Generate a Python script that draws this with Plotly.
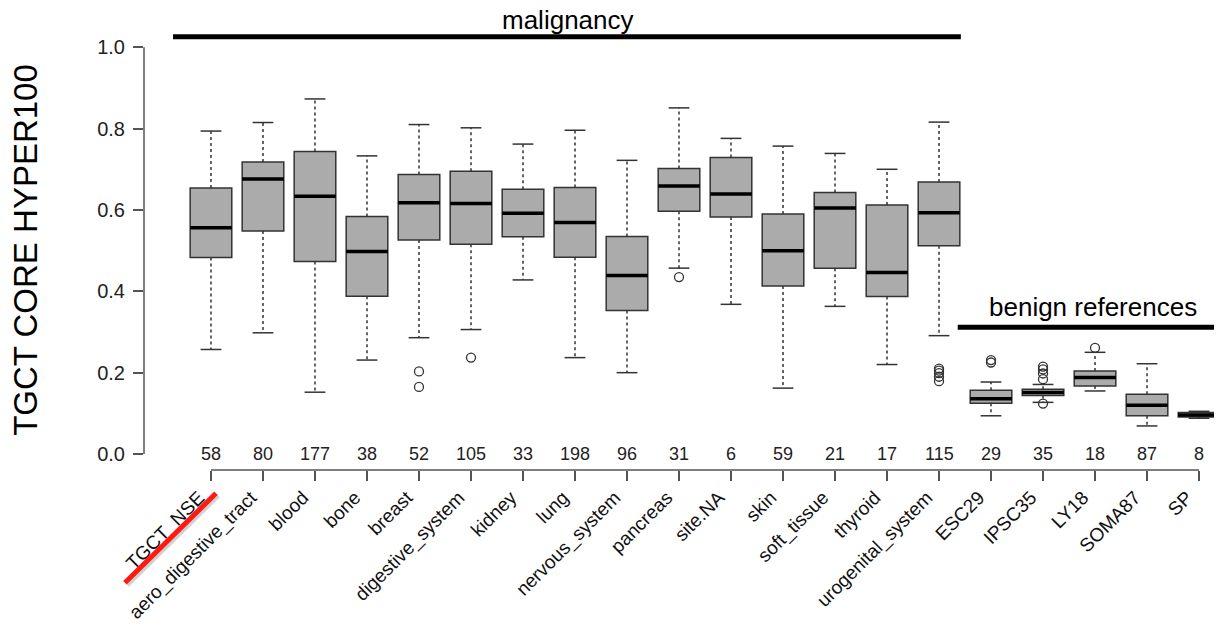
import plotly.graph_objects as go

categories = ["TGCT_NSE", "aero_digestive_tract", "blood", "bone", "breast",
              "digestive_system", "kidney", "lung", "nervous_system", "pancreas",
              "site.NA", "skin", "soft_tissue", "thyroid", "urogenital_system",
              "ESC29", "IPSC35", "LY18", "SOMA87", "SP"]
counts = [58, 80, 177, 38, 52, 105, 33, 198, 96, 31, 6, 59, 21, 17, 115, 29, 35, 18, 87, 8]

upper_whisker = [0.794, 0.815, 0.873, 0.733, 0.810, 0.802, 0.762, 0.796, 0.722, 0.851,
                 0.776, 0.757, 0.739, 0.700, 0.816, 0.177, 0.171, 0.250, 0.222, 0.105]
q3_values = [0.654, 0.718, 0.744, 0.584, 0.687, 0.695, 0.651, 0.655, 0.535, 0.702,
             0.729, 0.590, 0.643, 0.612, 0.669, 0.157, 0.159, 0.204, 0.147, 0.102]
median_values = [0.556, 0.676, 0.634, 0.498, 0.618, 0.616, 0.592, 0.569, 0.439, 0.659,
                 0.639, 0.500, 0.605, 0.446, 0.593, 0.136, 0.151, 0.188, 0.120, 0.096]
q1_values = [0.483, 0.548, 0.473, 0.388, 0.526, 0.516, 0.534, 0.484, 0.353, 0.597,
             0.583, 0.413, 0.457, 0.387, 0.512, 0.125, 0.144, 0.167, 0.094, 0.091]
lower_whisker = [0.257, 0.298, 0.152, 0.231, 0.286, 0.306, 0.428, 0.237, 0.200, 0.457,
                 0.368, 0.162, 0.363, 0.220, 0.291, 0.094, 0.127, 0.155, 0.069, 0.088]

outlier_categories = ["breast", "breast", "digestive_system", "pancreas",
                      "urogenital_system", "urogenital_system", "urogenital_system",
                      "urogenital_system", "urogenital_system",
                      "ESC29", "ESC29",
                      "IPSC35", "IPSC35", "IPSC35", "IPSC35", "IPSC35",
                      "LY18"]
outlier_values = [0.203, 0.165, 0.237, 0.435,
                  0.210, 0.205, 0.199, 0.190, 0.179,
                  0.231, 0.225,
                  0.215, 0.208, 0.198, 0.184, 0.124,
                  0.261]

group_labels = ["malignancy", "benign references"]

FONT = "Arial, 'Liberation Sans', Helvetica, sans-serif"
BOX_W = 0.8
CAP_W = 0.4
EDGE = "#333333"

idx = list(range(len(categories)))
pos = {c: i for i, c in enumerate(categories)}

fig = go.Figure()

# whiskers (dashed)
wx, wy = [], []
for i in idx:
    wx += [i, i, None, i, i, None]
    wy += [q3_values[i], upper_whisker[i], None, q1_values[i], lower_whisker[i], None]
fig.add_trace(go.Scatter(x=wx, y=wy, mode="lines", hoverinfo="skip",
                         line=dict(color=EDGE, width=1.5, dash="3px,3px"), showlegend=False))
# caps
cx, cy = [], []
for i in idx:
    for v in (upper_whisker[i], lower_whisker[i]):
        cx += [i - CAP_W / 2, i + CAP_W / 2, None]
        cy += [v, v, None]
fig.add_trace(go.Scatter(x=cx, y=cy, mode="lines", hoverinfo="skip",
                         line=dict(color=EDGE, width=1.5), showlegend=False))

# box bodies
fig.add_trace(go.Box(x=idx, q1=q1_values, median=median_values, q3=q3_values,
                     lowerfence=q1_values, upperfence=q3_values,
                     width=BOX_W, fillcolor="#ababab", boxpoints=False,
                     line=dict(color=EDGE, width=1.5), showlegend=False))

# thick medians
mx, my = [], []
for i in idx:
    mx += [i - BOX_W / 2, i + BOX_W / 2, None]
    my += [median_values[i], median_values[i], None]
fig.add_trace(go.Scatter(x=mx, y=my, mode="lines", hoverinfo="skip",
                         line=dict(color="black", width=3.5), showlegend=False))

# outliers
fig.add_trace(go.Scatter(x=[pos[c] for c in outlier_categories], y=outlier_values,
                         mode="markers", showlegend=False,
                         marker=dict(symbol="circle-open", size=9, color=EDGE,
                                     line=dict(width=1.3, color=EDGE))))

# counts
for i in idx:
    fig.add_annotation(x=i, y=0, text=str(counts[i]), showarrow=False,
                       font=dict(size=18, color="#222", family=FONT),
                       xanchor="center", yanchor="middle")

# group brackets
fig.add_shape(type="line", xref="x", yref="y", x0=-0.73, x1=14.42, y0=1.026, y1=1.026,
              line=dict(color="black", width=5))
fig.add_annotation(x=6.87, y=1.025, xref="x", yref="paper", text=group_labels[0],
                   xanchor="center", yanchor="middle",
                   showarrow=False, font=dict(size=26, color="black", family=FONT))
fig.add_shape(type="line", xref="x", yref="y", x0=14.36, x1=19.29, y0=0.3116, y1=0.3116,
              line=dict(color="black", width=5))
fig.add_annotation(x=16.96, y=0.362, xref="x", yref="y", text=group_labels[1],
                   xanchor="center", yanchor="middle",
                   showarrow=False, font=dict(size=26, color="black", family=FONT))

# R-style axis lines
fig.add_shape(type="line", xref="x", yref="paper", x0=0, x1=len(categories) - 1,
              y0=0, y1=0, line=dict(color="#555", width=1.5))
fig.add_shape(type="line", xref="paper", yref="y", x0=0, x1=0, y0=0, y1=1.0,
              line=dict(color="#555", width=1.5))

# red strike-through on the first label
fig.add_shape(type="line", xref="paper", yref="paper", x0=-0.0158, y0=-0.2617,
              x1=0.0693, y1=-0.0581, line=dict(color="rgba(0,0,0,0.18)", width=5))
fig.add_shape(type="line", xref="paper", yref="paper", x0=-0.0178, y0=-0.2567,
              x1=0.0673, y1=-0.0531, line=dict(color="#ff1a10", width=5))

# y title
fig.add_annotation(xref="paper", yref="paper", x=-0.111, y=0.502,
                   xanchor="center", yanchor="middle",
                   text="TGCT CORE HYPER100", textangle=-90, showarrow=False,
                   font=dict(size=33, color="black", family=FONT))

fig.update_layout(
    width=1219, height=629,
    margin=dict(l=144, r=5, t=31, b=159, autoexpand=False),
    plot_bgcolor="white", paper_bgcolor="white",
    font=dict(family=FONT, color="#222"),
    xaxis=dict(range=[-1.288, 19.288], tickmode="array", tickvals=idx, ticktext=categories,
               tickangle=-45, ticks="outside", ticklen=10, tickcolor="#555", tickwidth=1.5,
               ticklabelshift=-12, ticklabelstandoff=-2,
               showline=False, showgrid=False, zeroline=False,
               tickfont=dict(size=19, color="#111", family=FONT)),
    yaxis=dict(range=[-0.0393, 1.04], tickmode="array",
               tickvals=[0, 0.2, 0.4, 0.6, 0.8, 1.0],
               ticktext=["0.0", "0.2", "0.4", "0.6", "0.8", "1.0"],
               ticks="outside", ticklen=10, tickcolor="#555", tickwidth=1.5,
               ticklabelstandoff=4,
               showline=False, showgrid=False, zeroline=False,
               tickfont=dict(size=20, color="#222", family=FONT)),
)

fig.write_html("out.html", config={"displayModeBar": False},
               post_script="document.body.style.margin='0';document.body.style.overflow='hidden';")
